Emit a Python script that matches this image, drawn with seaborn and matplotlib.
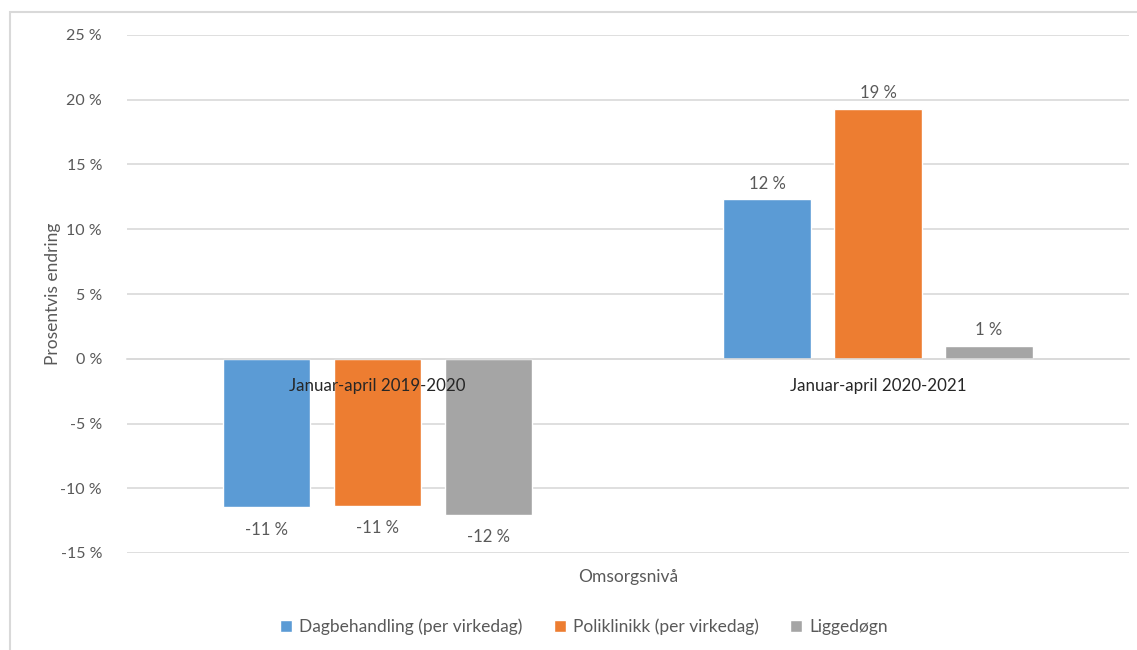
import numpy as np
import pandas as pd
import matplotlib.pyplot as plt
import seaborn as sns
from matplotlib.patches import Rectangle

# values (percent change)
periods = ['Januar-april 2019-2020', 'Januar-april 2020-2021']
series = ['Dagbehandling (per virkedag)', 'Poliklinikk (per virkedag)', 'Liggedøgn']
dagbehandling = [-11.45, 12.3]
poliklinikk = [-11.35, 19.3]
liggedogn = [-12.05, 1.0]
yticks = [-15, -10, -5, 0, 5, 10, 15, 20, 25]

colors = ['#5B9BD5', '#ED7D31', '#A5A5A5']

df = pd.DataFrame({
    'period': periods * 3,
    'serie': [s for s in series for _ in periods],
    'value': dagbehandling + poliklinikk + liggedogn,
})

sns.set_style('white')
plt.rcParams['font.family'] = ['Lato', 'DejaVu Sans']

fig = plt.figure(figsize=(11.37, 6.5), dpi=100)
ax = fig.add_axes([127 / 1137, 1 - 553 / 650, (1128.5 - 127) / 1137, (553 - 35) / 650])

# chart area border (only left/top visible in the picture)
fig.patches.append(Rectangle((10 / 1137, -0.1), 1.2, 1 - 12 / 650 + 0.1,
                             transform=fig.transFigure, fill=False,
                             edgecolor='#D9D9D9', linewidth=1.5))

sns.barplot(data=df, x='period', y='value', hue='serie', order=periods,
            hue_order=series, palette=colors, width=0.665, gap=0.21,
            saturation=1, ax=ax, legend=True)

ax.set_ylim(-15, 25)
ax.set_xlim(-0.5, 1.5)
ax.set_yticks(yticks)
ax.set_yticklabels([f'{t} %' for t in yticks], color='#595959', fontsize=11.5)
ax.yaxis.grid(True, color='#D9D9D9', linewidth=1.2)
ax.set_axisbelow(True)
ax.xaxis.set_zorder(5)  # category labels sit on top of the bars
ax.tick_params(axis='y', length=0, pad=18)

for s in ['top', 'right', 'left']:
    ax.spines[s].set_visible(False)
ax.spines['bottom'].set_position(('data', 0))
ax.spines['bottom'].set_color('#D9D9D9')
ax.spines['bottom'].set_linewidth(1.2)
ax.tick_params(axis='x', length=0, pad=14, labelsize=12.2, labelcolor='#262626')

ax.set_xlabel('Omsorgsnivå', fontsize=12.5, color='#595959')
ax.xaxis.set_label_coords(0.5, -0.03)
ax.set_ylabel('Prosentvis endring', fontsize=12.5, color='#595959')
ax.yaxis.set_label_coords(-0.066, 0.5)

# data labels: a bit more room below the negative bars, like the original
for cont in ax.containers:
    pos = [f'{v:.0f} %' if v >= 0 else '' for v in cont.datavalues]
    neg = [f'{v:.0f} %' if v < 0 else '' for v in cont.datavalues]
    ax.bar_label(cont, labels=pos, padding=5.5, fontsize=12, color='#595959')
    ax.bar_label(cont, labels=neg, padding=10.5, fontsize=12, color='#595959')

handles, labs = ax.get_legend_handles_labels()
ax.legend(handles, labs, loc='center', bbox_to_anchor=((584 - 127) / 1001.5, (553 - 627) / 518),
          ncol=3, frameon=False, fontsize=12.5, handlelength=0.7, handleheight=0.7,
          handletextpad=0.4, columnspacing=1.8, labelcolor='#595959')

fig.savefig('out.png', dpi=100)
